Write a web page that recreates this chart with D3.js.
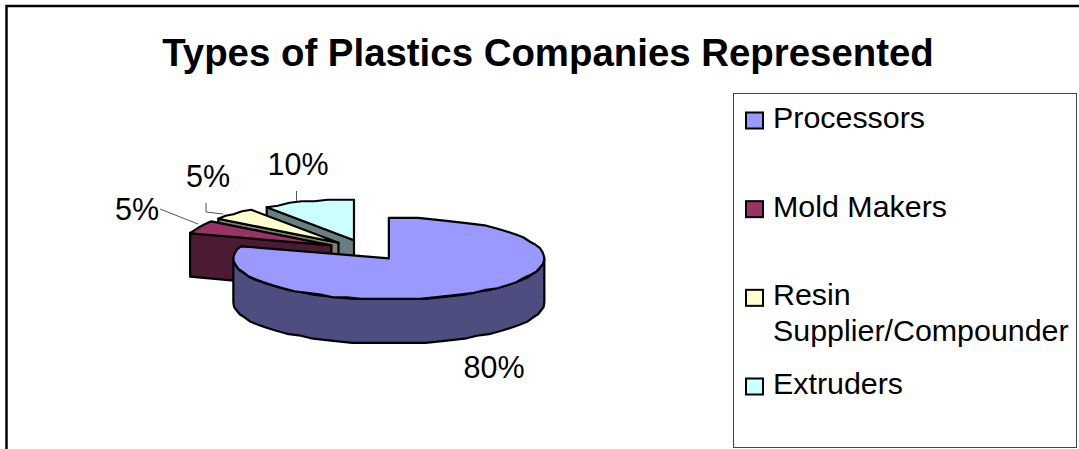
<!DOCTYPE html>
<html>
<head>
<meta charset="utf-8">
<script src="https://cdn.jsdelivr.net/npm/d3@7/dist/d3.min.js"></script>
<style>
html,body{margin:0;padding:0;background:#fff;overflow:hidden}
svg{display:block}
text{font-family:"Liberation Sans",Arial,sans-serif;fill:#000}
</style>
</head>
<body>
<svg id="chart" width="1079" height="449"></svg>
<script>
// Company mix, in percent
const categories = ["Processors", "Mold Makers", "Resin Supplier/Compounder", "Extruders"];
const shares = [80, 5, 5, 10];
const percentLabels = ["80%", "5%", "5%", "10%"];
const topColors = ["#9999ff", "#993366", "#ffffcc", "#ccffff"];
const sideColors = ["#4d4d80", "#4d1a33", "#808066", "#668080"];

const svg = d3.select("#chart");
const W = 1079, H = 449;

// Pie geometry: ellipse radii, extrusion depth, explosion fraction
const cx = 366, cy = 250, rx = 155.5, ry = 41, depth = 44, explode = 0.25;
// Slices set toward the back read slightly narrower
const farScale = 0.955;

const pie = d3.pie().sort(null).value(d => d);
const arcs = pie(shares);

const proj = (a, r = 1, k = 1) => [r * k * rx * Math.sin(a), -r * ry * Math.cos(a)];

// Rim points are faceted slightly, as coarse 3-D chart renderers draw them
function rim(a0, a1, k) {
  const n = Math.max(2, Math.ceil(Math.abs(a1 - a0) / (5.5 * Math.PI / 180)));
  return d3.range(n + 1).map(i => {
    const [x, y] = proj(a0 + (a1 - a0) * i / n, 1, k);
    return [x, Math.round(y / 1.5) * 1.5];
  });
}

const line = d3.line();

// Outer chart frame
svg.append("path")
  .attr("d", `M6.5,${H}V6H${W}`)
  .attr("fill", "none").attr("stroke", "#000").attr("stroke-width", 2.5);

// Title
svg.append("text")
  .attr("x", 548).attr("y", 66)
  .attr("text-anchor", "middle")
  .attr("font-size", 38.4).attr("font-weight", "bold")
  .text("Types of Plastics Companies Represented");

const pieLayer = svg.append("g").attr("stroke-linejoin", "round");

function poly(g, pts, fill) {
  g.append("path")
    .attr("d", line(pts) + "Z")
    .attr("fill", fill)
    .attr("stroke", "#000")
    .attr("stroke-width", 2.2);
}

// Back slices first, so nearer ones overlap them
[3, 2, 1, 0].forEach(i => {
  const d = arcs[i];
  const k = i === 0 ? 1 : farScale;
  const mid = (d.startAngle + d.endAngle) / 2;
  const [ox, oy] = proj(mid, explode);
  const g = pieLayer.append("g").attr("transform", `translate(${cx + ox},${cy + oy})`);
  const a0 = d.startAngle, a1 = d.endAngle;

  // Cut faces, only where they turn toward the viewer
  const face = a => {
    const [x, y] = proj(a, 1, k);
    poly(g, [[0, 0], [x, y], [x, y + depth], [0, depth]], sideColors[i]);
  };
  if (Math.sin(a0) < -1e-6) face(a0);
  if (Math.sin(a1) > 1e-6) face(a1);

  // Outer wall: only the front half of the rim is visible
  const lowerStart = Math.max(a0, Math.PI / 2), lowerEnd = Math.min(a1, 3 * Math.PI / 2);
  if (lowerEnd > lowerStart) {
    const wall = rim(lowerStart, lowerEnd, k);
    const back = wall.map(([x, y]) => [x, y + depth]).reverse();
    poly(g, wall.concat(back), sideColors[i]);
  }

  // Top face
  poly(g, [[0, 0], ...rim(a0, a1, k)], topColors[i]);
});

// Leader lines and percent labels
const leaders = [
  null,
  [[160, 209], [198, 224]],
  [[206, 203], [206, 212], [223, 214]],
  [[296.5, 191], [296.5, 201]]
];
leaders.forEach(pts => {
  if (pts) svg.append("path").attr("d", line(pts)).attr("fill", "none")
    .attr("stroke", "#555").attr("stroke-width", 1);
});
const labelPos = [[494, 378], [137, 220], [208, 187], [298, 175]];
percentLabels.forEach((t, i) => {
  svg.append("text").attr("x", labelPos[i][0]).attr("y", labelPos[i][1])
    .attr("text-anchor", "middle").attr("font-size", 30.5).text(t);
});

// Legend
svg.append("rect")
  .attr("x", 733.5).attr("y", 93.5).attr("width", 343).attr("height", 354)
  .attr("fill", "#fff").attr("stroke", "#444").attr("stroke-width", 1);

const legendY = d3.scalePoint().domain(categories).range([112, 378]);
const legendLines = ["Processors", "Mold Makers", ["Resin", "Supplier/Compounder"], "Extruders"];
categories.forEach((c, i) => {
  const y = legendY(c);
  svg.append("rect")
    .attr("x", 746).attr("y", y + 0.5).attr("width", 17).attr("height", 16)
    .attr("fill", topColors[i]).attr("stroke", "#000").attr("stroke-width", 2);
  [].concat(legendLines[i]).forEach((s, k) => {
    svg.append("text").attr("x", 773).attr("y", y + 16 + k * 36)
      .attr("font-size", 30.4).text(s);
  });
});
</script>
</body>
</html>
